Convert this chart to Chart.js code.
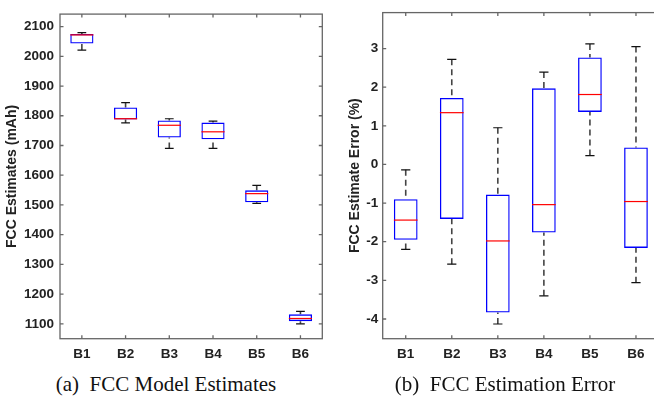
<!DOCTYPE html>
<html>
<head>
<meta charset="utf-8">
<script src="https://cdn.jsdelivr.net/npm/chart.js@4.4.1/dist/chart.umd.min.js"></script>
<style>
  html, body { margin: 0; padding: 0; background: #fff; }
  body { width: 654px; height: 402px; position: relative; overflow: hidden; }
  canvas { position: absolute; top: 0; }
  #fccChart { left: 0; }
  #errChart { left: 327px; }
  .caption {
    position: absolute; top: 372px;
    font-family: 'Liberation Serif', 'Times New Roman', serif;
    font-size: 21px; color: #111; white-space: pre;
    transform: translateX(-50%);
  }
</style>
</head>
<body>
<canvas id="fccChart" width="330" height="370"></canvas>
<canvas id="errChart" width="340" height="370"></canvas>
<div class="caption" style="left:166px">(a)  FCC Model Estimates</div>
<div class="caption" style="left:505px">(b)  FCC Estimation Error</div>

<script>
const batteries = ['B1', 'B2', 'B3', 'B4', 'B5', 'B6'];

// FCC model estimates (mAh)
const fccLow    = [2021, 1776, 1690, 1690, 1505, 1100];
const fccQ1     = [2043, 1787, 1727, 1721, 1509, 1109];
const fccMedian = [2072, 1790, 1768, 1746, 1538, 1118];
const fccQ3     = [2075, 1828, 1784, 1777, 1549, 1132];
const fccHigh   = [2080, 1844, 1790, 1782, 1566, 1142];
const fccTicks  = [1100, 1200, 1300, 1400, 1500, 1600, 1700, 1800, 1900, 2000, 2100];

// FCC estimation error (%)
const errLow    = [-2.20, -2.58, -4.13, -3.40, 0.23, -3.06];
const errQ1     = [-1.95, -1.41, -3.83, -1.76, 1.36, -2.16];
const errMedian = [-1.44, 1.34, -1.98, -1.04, 1.81, -0.96];
const errQ3     = [-0.90, 1.72, -0.78, 1.97, 2.77, 0.44];
const errHigh   = [-0.14, 2.72, 0.95, 2.39, 3.12, 3.05];
const errTicks  = [-4, -3, -2, -1, 0, 1, 2, 3];

const axisColor = '#666';
const textColor = '#222';
const tickFont = { family: "'Liberation Sans', Arial, sans-serif", size: 13.5, weight: 'bold' };
const titleFont = { family: "'Liberation Sans', Arial, sans-serif", size: 14, weight: 'bold' };

// whiskers, caps, medians and the boxed frame with inward ticks
const boxParts = {
  id: 'boxParts',
  beforeDatasetsDraw(chart, args, opts) {
    const { ctx } = chart;
    const x = chart.scales.x, y = chart.scales.y;
    const cap = (x.getPixelForValue(1) - x.getPixelForValue(0)) * 0.1;
    ctx.save();
    opts.low.forEach((lo, i) => {
      const px = x.getPixelForValue(i);
      const yLo = y.getPixelForValue(lo), yHi = y.getPixelForValue(opts.high[i]);
      ctx.strokeStyle = '#444';
      ctx.lineWidth = 1.6;
      ctx.setLineDash([6, 4]);
      ctx.beginPath();
      ctx.moveTo(px, yHi); ctx.lineTo(px, y.getPixelForValue(opts.q3[i]));
      ctx.moveTo(px, yLo); ctx.lineTo(px, y.getPixelForValue(opts.q1[i]));
      ctx.stroke();
      ctx.setLineDash([]);
      ctx.strokeStyle = '#111';
      ctx.lineWidth = 1.2;
      ctx.beginPath();
      ctx.moveTo(px - cap, yHi); ctx.lineTo(px + cap, yHi);
      ctx.moveTo(px - cap, yLo); ctx.lineTo(px + cap, yLo);
      ctx.stroke();
    });
    ctx.restore();
  },
  afterDatasetsDraw(chart, args, opts) {
    const { ctx, chartArea: a } = chart;
    const x = chart.scales.x, y = chart.scales.y;
    ctx.save();
    ctx.strokeStyle = '#ff0000';
    ctx.lineWidth = 1.2;
    chart.getDatasetMeta(0).data.forEach((bar, i) => {
      const py = y.getPixelForValue(opts.median[i]);
      ctx.beginPath();
      ctx.moveTo(bar.x - bar.width / 2, py);
      ctx.lineTo(bar.x + bar.width / 2, py);
      ctx.stroke();
    });

    ctx.strokeStyle = axisColor;
    ctx.lineWidth = 1.3;
    ctx.strokeRect(a.left, a.top, a.right - a.left, a.bottom - a.top);
    const len = 3.5;
    ctx.beginPath();
    y.ticks.forEach(t => {
      const py = y.getPixelForValue(t.value);
      ctx.moveTo(a.left, py); ctx.lineTo(a.left + len, py);
      ctx.moveTo(a.right, py); ctx.lineTo(a.right - len, py);
    });
    batteries.forEach((b, i) => {
      const px = x.getPixelForValue(i);
      ctx.moveTo(px, a.bottom); ctx.lineTo(px, a.bottom - len);
      ctx.moveTo(px, a.top); ctx.lineTo(px, a.top + len);
    });
    ctx.stroke();
    ctx.restore();
  }
};

function boxChart(id, s) {
  return new Chart(document.getElementById(id), {
    type: 'bar',
    data: {
      labels: batteries,
      datasets: [{
        data: s.q1.map((v, i) => [v, s.q3[i]]),
        backgroundColor: 'rgba(0,0,0,0)',
        borderColor: '#0000ff',
        borderWidth: 1.3,
        borderSkipped: false,
        barPercentage: s.boxWidth,
        categoryPercentage: 1
      }]
    },
    options: {
      responsive: false,
      animation: false,
      devicePixelRatio: 1,
      layout: { padding: { top: s.top, right: s.right, left: 0, bottom: 0 } },
      plugins: {
        legend: { display: false },
        tooltip: { enabled: false },
        boxParts: { low: s.low, q1: s.q1, median: s.median, q3: s.q3, high: s.high }
      },
      scales: {
        x: {
          grid: { display: false, drawTicks: false },
          border: { display: false },
          ticks: { font: tickFont, color: textColor, padding: 7 },
          afterFit: sc => { sc.height = 31.3; }
        },
        y: {
          min: s.min,
          max: s.max,
          grid: { display: false, drawTicks: false },
          border: { display: false },
          afterBuildTicks: sc => { sc.ticks = s.ticks.map(v => ({ value: v })); },
          ticks: { font: tickFont, color: textColor, padding: s.tickPad, callback: v => String(v) },
          title: { display: true, text: s.title, font: titleFont, color: textColor, padding: { top: s.titlePad, bottom: 0 } },
          afterFit: sc => { sc.width = s.axisWidth; }
        }
      }
    },
    plugins: [boxParts]
  });
}

boxChart('fccChart', {
  low: fccLow, q1: fccQ1, median: fccMedian, q3: fccQ3, high: fccHigh, ticks: fccTicks,
  min: 1050, max: 2142, title: 'FCC Estimates (mAh)',
  top: 4.3, right: 7.7, axisWidth: 60, tickPad: 6, titlePad: 3.3, boxWidth: 0.53
});

boxChart('errChart', {
  low: errLow, q1: errQ1, median: errMedian, q3: errQ3, high: errHigh, ticks: errTicks,
  min: -4.51, max: 3.93, title: 'FCC Estimate Error (%)',
  top: 2, right: 8, axisWidth: 55.7, tickPad: 4.5, titlePad: 19.6, boxWidth: 0.515
});
</script>
</body>
</html>
